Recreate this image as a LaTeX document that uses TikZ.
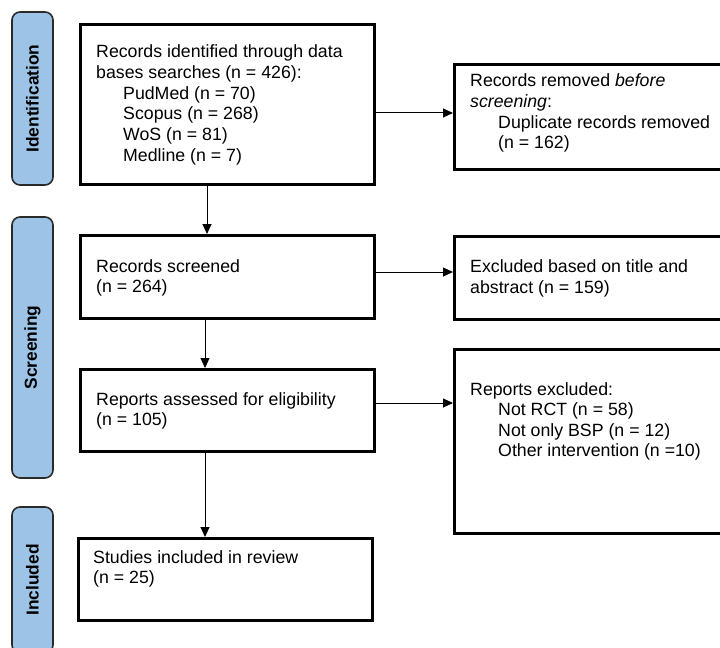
\documentclass[tikz,border=0pt]{standalone}
\usepackage{fontspec}
\setmainfont{Liberation Sans}
\usetikzlibrary{arrows.meta}
\definecolor{pillblue}{HTML}{9DC3E6}
\definecolor{pillline}{HTML}{2A2A2A}
\begin{document}
\begin{tikzpicture}[x=1bp,y=-1bp,
  box/.style={draw=black, line width=2.6bp, minimum width=294bp, anchor=north west, inner sep=0pt},
  rbox/.style={draw=black, line width=2.6bp, minimum width=290bp, anchor=north west, inner sep=0pt},
  pill/.style={draw=pillline, fill=pillblue, line width=1.6bp, rounded corners=8bp, rotate=90, minimum height=41bp, inner sep=0pt, font=\bfseries\fontsize{17.4}{20}\selectfont},
  txt/.style={anchor=base west, inner sep=0pt, font=\fontsize{17.8}{20.7}\selectfont},
  arr/.style={line width=1bp, -{Triangle[length=10bp,width=9bp]}}]
\useasboundingbox (0,0) rectangle (720,648);
\clip (0,0) rectangle (720,648);
\fill[white] (0,0) rectangle (720,648);

% phase labels
\node[pill, minimum width=173bp] (pid) at (32.5,98.5) {Identification};
\node[pill, minimum width=261bp] (psc) at (32.5,347.5) {Screening};
\node[pill, minimum width=146bp] (pin) at (32.5,580) {Included};

% boxes
\node[box, minimum height=160bp] (b1) at (79,23) {};
\node[box, minimum height=83bp] (b2) at (79,234) {};
\node[box, minimum height=82bp] (b3) at (79,368) {};
\node[box, minimum height=82bp] (b4) at (77,537) {};
\node[rbox, minimum height=105bp] (ra) at (453,63) {};
\node[rbox, minimum height=83bp] (rb) at (453,235) {};
\node[rbox, minimum height=184bp] (rc) at (453,348) {};

% texts
\node[txt] (t1) at (96,58) {\begin{tabular}[t]{@{}l@{}}Records identified through data\\ bases searches (n = 426):\\ \hspace{27bp}PudMed (n = 70)\\ \hspace{27bp}Scopus (n = 268)\\ \hspace{27bp}WoS (n = 81)\\ \hspace{27bp}Medline (n = 7)\end{tabular}};
\node[txt] (t2) at (96,272) {\begin{tabular}[t]{@{}l@{}}Records screened\\ (n = 264)\end{tabular}};
\node[txt] (t3) at (96,405) {\begin{tabular}[t]{@{}l@{}}Reports assessed for eligibility\\ (n = 105)\end{tabular}};
\node[txt] (t4) at (93,563) {\begin{tabular}[t]{@{}l@{}}Studies included in review\\ (n = 25)\end{tabular}};
\node[txt] (ta) at (470,87) {\begin{tabular}[t]{@{}l@{}}Records removed \textit{before}\\ \textit{screening}:\\ \hspace{28bp}Duplicate records removed\\ \hspace{28bp}(n = 162)\end{tabular}};
\node[txt] (tb) at (470,272.5) {\begin{tabular}[t]{@{}l@{}}Excluded based on title and\\ abstract (n = 159)\end{tabular}};
\node[txt] (tc) at (470,395) {\begin{tabular}[t]{@{}l@{}}Reports excluded:\\ \hspace{28bp}Not RCT (n = 58)\\ \hspace{28bp}Not only BSP (n = 12)\\ \hspace{28bp}Other intervention (n =10)\end{tabular}};

% connectors
\coordinate (xa) at (207,0);
\coordinate (xb) at (205,0);
\coordinate (ya) at (0,113);
\coordinate (yb) at (0,272);
\coordinate (yc) at (0,403);
\draw[arr] (b1.south -| xa) -- (b2.north -| xa);
\draw[arr] (b2.south -| xb) -- (b3.north -| xb);
\draw[arr] (b3.south -| xb) -- (b4.north -| xb);
\draw[arr] (b1.east |- ya) -- (ra.west |- ya);
\draw[arr] (b2.east |- yb) -- (rb.west |- yb);
\draw[arr] (b3.east |- yc) -- (rc.west |- yc);
\end{tikzpicture}
\end{document}
